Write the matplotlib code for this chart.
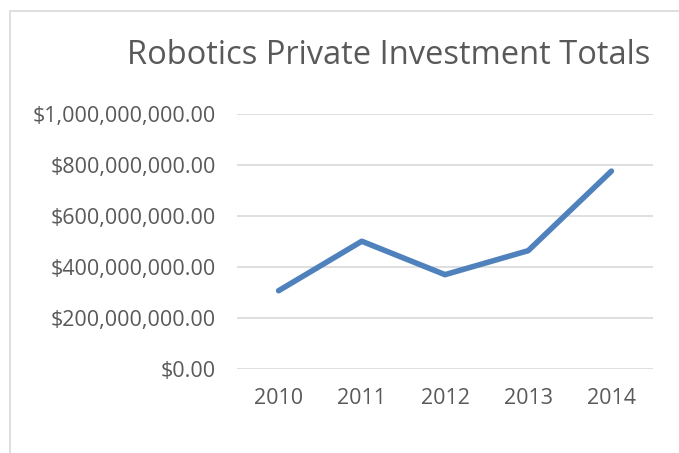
import matplotlib
matplotlib.use('Agg')
from matplotlib import pyplot as plt
from matplotlib.patches import Rectangle
from matplotlib.ticker import FuncFormatter

# Data
# ----
years = ['2010', '2011', '2012', '2013', '2014']
invest = [307e6, 501e6, 370e6, 464e6, 776e6]
yticks = [0, 200e6, 400e6, 600e6, 800e6, 1000e6]

W, H = 679, 453
fig = plt.figure(figsize=(W/100., H/100.), dpi=100)
plt.rcParams['font.family'] = ['Open Sans', 'DejaVu Sans']
txt = '#595959'

# chart area border
fig.patches.append(Rectangle((10/W, -0.1), 1.2, (H-11)/H + 0.1, transform=fig.transFigure,
                             fill=False, edgecolor='#d9d9d9', linewidth=1.2))

# plot area: x 237..653, y 114..369 (pixels from top)
ax = fig.add_axes([237/W, 1-369/H, (653-237)/W, (369-114)/H])
x = range(len(years))
ax.plot(x, invest, color='#4f81bd', linewidth=4, solid_capstyle='round', solid_joinstyle='round', zorder=3)

ax.set_xlim(-0.5, len(years)-0.5)
ax.set_ylim(0, 1e9)
ax.set_yticks(yticks)
ax.yaxis.set_major_formatter(FuncFormatter(lambda v, p: '${:,.2f}'.format(v)))
ax.set_xticks(list(x))
ax.set_xticklabels(years)
ax.grid(axis='y', color='#d9d9d9', linewidth=1.2)
ax.set_axisbelow(True)
for s in ax.spines.values():
    s.set_visible(False)
ax.tick_params(length=0, labelsize=15.5, labelcolor=txt)
ax.tick_params(axis='y', pad=15)
ax.tick_params(axis='x', pad=14)

fig.text(389/W, 1-56/H, 'Robotics Private Investment Totals', ha='center', va='center',
         fontsize=23.5, color=txt)

plt.savefig('out.png', dpi=100)
